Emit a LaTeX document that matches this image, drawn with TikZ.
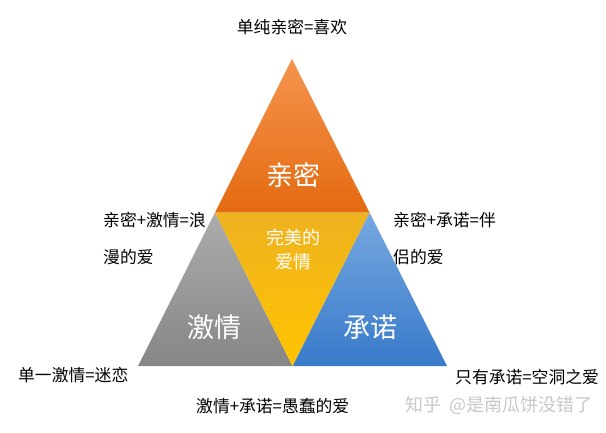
\documentclass[tikz,border=0pt]{standalone}
\usepackage{fontspec}
\newfontfamily\cjk{Noto Sans CJK SC}
\usetikzlibrary{calc, positioning}
\newcommand{\shadetri}{\shade[draw=none]}
\definecolor{qmtop}{RGB}{245,148,78}
\definecolor{qmbot}{RGB}{228,106,16}
\definecolor{wmtop}{RGB}{238,178,32}
\definecolor{wmbot}{RGB}{255,196,0}
\definecolor{jqtop}{RGB}{172,172,172}
\definecolor{jqbot}{RGB}{134,134,134}
\definecolor{cntop}{RGB}{118,168,224}
\definecolor{cnbot}{RGB}{56,122,202}
\definecolor{zhihu}{RGB}{200,200,200}

\begin{document}
\begin{tikzpicture}[x=1pt,y=-1pt,
  lbl/.style={font=\cjk\fontsize{16.8}{20}\selectfont, inner sep=0pt},
  big/.style={font=\cjk\fontsize{27}{30}\selectfont, text=white, inner sep=0pt}]
\useasboundingbox (0,0) rectangle (606,432);
% Eckpunkte des Dreiecks
\coordinate (top) at (292,59);
\coordinate (bl) at (138,366);
\coordinate (br) at (447,366);
\coordinate (ml) at ($(top)!0.5!(bl)$);
\coordinate (mr) at ($(top)!0.5!(br)$);
\coordinate (mb) at ($(bl)!0.5!(br)$);
% Vier Teildreiecke
\shadetri[top color=qmtop, bottom color=qmbot] (top) -- (ml) -- (mr) -- cycle;
\shadetri[top color=jqtop, bottom color=jqbot] (ml) -- (bl) -- (mb) -- cycle;
\shadetri[top color=cntop, bottom color=cnbot] (mr) -- (mb) -- (br) -- cycle;
\shadetri[top color=wmtop, bottom color=wmbot] (ml) -- (mr) -- (mb) -- cycle;
% Beschriftung innen
\node[big] (qinmi) at (293,175) {亲密};
\node[big] (jiqing) at (214,327) {激情};
\node[big] (chengnuo) at (370,327) {承诺};
\node[font=\cjk\fontsize{18}{24}\selectfont, text=white, align=center, inner sep=0pt] (wanmei) at (293,250) {完美的\\爱情};
% Beschriftung aussen
\node[lbl] (xihuan) at (292,27) {单纯亲密=喜欢};
\node[lbl, anchor=west] (langman) at (103,220) {亲密+激情=浪};
\node[lbl, anchor=west] (langman2) at (103,257) {漫的爱};
\node[lbl, anchor=west] (banlv) at (393,220) {亲密+承诺=伴};
\node[lbl, anchor=west] (banlv2) at (393,257) {侣的爱};
\node[lbl, anchor=west] (milian) at (18,375) {单一激情=迷恋};
\node[lbl, anchor=west] (kongdong) at (455,377) {只有承诺=空洞之爱};
\node[lbl, anchor=west] (yuchun) at (196,406) {激情+承诺=愚蠢的爱};
\node[lbl, anchor=west, text=zhihu, font=\cjk\fontsize{18}{20}\selectfont] (shuiyin) at (405,405) {知乎\hspace{8pt}@是南瓜饼没错了};
\end{tikzpicture}
\end{document}
